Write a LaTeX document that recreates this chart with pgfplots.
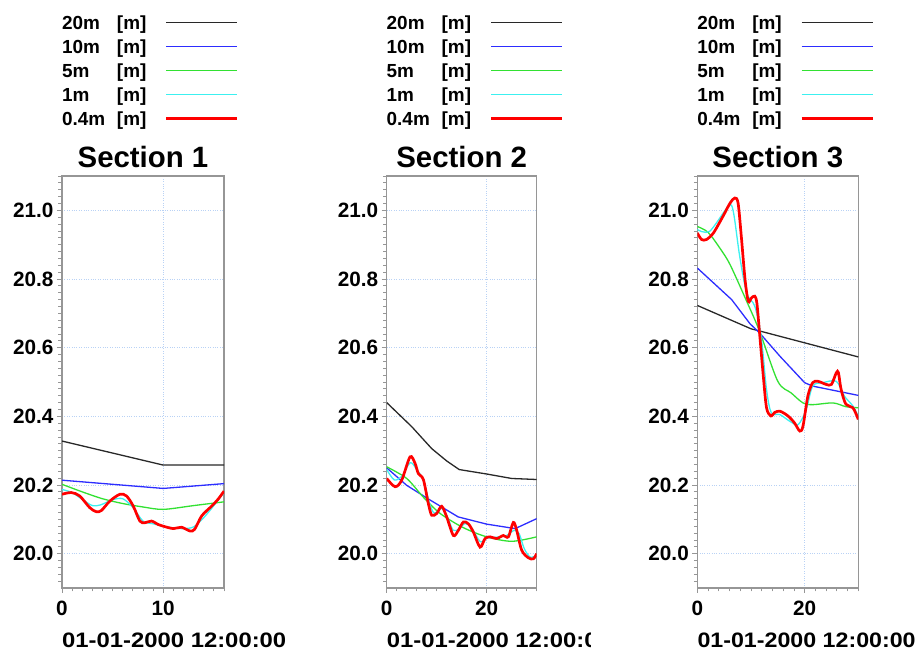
\documentclass[border=0pt]{standalone}
\usepackage{graphicx}
\usepackage{pgfplots}
\pgfplotsset{compat=1.18}
\usepackage{fontspec}
\setmainfont{Liberation Sans}

\definecolor{axgray}{RGB}{150,150,150}
\definecolor{gridblue}{RGB}{185,210,245}
\definecolor{c20}{RGB}{40,40,40}
\definecolor{c10}{RGB}{45,45,255}
\definecolor{c5}{RGB}{50,225,50}
\definecolor{c1}{RGB}{60,240,240}
\definecolor{c04}{RGB}{255,0,0}

\newcommand\tickfont{\fontsize{20.8}{24}\selectfont\bfseries}
\newcommand\titlefont{\fontsize{29.5}{34}\selectfont\bfseries}
\newcommand\legfont{\fontsize{19}{23}\selectfont\bfseries}
\newcommand\datefont{\fontsize{21}{24}\selectfont\bfseries}
\newcommand\legtxt[1]{\makebox[103bp][l]{\makebox[55bp][l]{#1}[m]}}

\pgfplotsset{
  sect/.style={
    scale only axis, height=412bp,
    ymin=19.9, ymax=21.1,
    ytick={20,20.2,20.4,20.6,20.8,21},
    minor ytick={19.92,19.94,...,21.09},
    tick align=outside, tick pos=left,
    major tick length=5bp, minor tick length=3.5bp,
    tick style={color=axgray, line width=0.8bp},
    axis line style={color=axgray, line width=1.1bp},
    grid=major, major grid style={gridblue, dotted, line width=0.6bp},
    ticklabel style={font=\tickfont},
    xticklabel style={yshift=-4.5bp},
    /pgf/number format/assume math mode=true,
    yticklabel style={/pgf/number format/fixed, /pgf/number format/precision=1,
      /pgf/number format/fixed zerofill},
    title style={font=\titlefont, at={(0.5,1)}, anchor=base, yshift=2.2bp},
    xlabel style={at={(axis description cs:0,0)}, anchor=base west,
      inner sep=0pt, yshift=-59bp, font=\datefont},
    xlabel={\scalebox{1.14}[1]{01-01-2000 12:00:00}},
    legend plot pos=right, legend cell align=left,
    legend style={draw=none, fill=none, inner sep=0pt, outer sep=0pt,
      at={(0,1)}, anchor=north west, yshift=163bp,
      row sep=0pt, column sep=0pt, font=\legfont,
      nodes={inner sep=0pt, text height=17bp, text depth=7bp, anchor=base west}},
    legend image code/.code={\draw[##1] (0bp,7.3bp) -- (71bp,7.3bp);},
    legend entries={\legtxt{20m},\legtxt{10m},\legtxt{5m},\legtxt{1m},\legtxt{0.4m}},
    every axis plot/.append style={line width=1.3bp},
  },
  l20/.style={c20, sharp plot},
  l10/.style={c10, sharp plot},
  l5/.style={c5, smooth},
  l1/.style={c1, smooth},
  l04/.style={c04, smooth, line width=2.7bp},
}

\begin{document}
\begin{tikzpicture}
\path[use as bounding box, clip] (0,0) rectangle (918bp,650bp);

% ---------------- Section 1 ----------------
\begin{axis}[sect, at={(62bp,62bp)}, anchor=south west, width=162bp,
  xmin=0, xmax=16, xtick={0,10}, minor xtick={0,1,...,16},
  title={Section 1}]
\addplot[l20] coordinates {(0,20.328) (10,20.258) (16,20.258)};
\addplot[l10] coordinates {(0,20.214) (10,20.190) (16,20.204)};
\addplot[l5] coordinates {(0,20.202) (2,20.180) (4,20.160) (6,20.146) (8,20.136)
  (10,20.129) (13,20.140) (16,20.151)};
\addplot[l1] coordinates {(0,20.187) (1,20.178) (2,20.158) (3,20.140) (3.8,20.142)
  (5,20.157) (6,20.160) (7,20.135) (8,20.095) (9,20.087) (10,20.080) (11,20.075)
  (12,20.073) (13,20.078) (14,20.105) (15,20.140) (16,20.178)};
\addplot[l04] coordinates {(0,20.173) (0.92,20.178) (1.75,20.168) (2.74,20.134)
  (3.4,20.122) (3.9,20.126) (4.72,20.153) (5.71,20.173) (6.37,20.168) (7.03,20.139)
  (7.69,20.095) (8.18,20.090) (8.84,20.095) (9.5,20.085) (10,20.080) (11,20.073)
  (11.8,20.077) (12.64,20.066) (13.1,20.071) (13.8,20.110) (14.8,20.139)
  (15.4,20.158) (16,20.182)};
\end{axis}

% ---------------- Section 2 ----------------
\begin{scope}
\clip (300bp,0bp) rectangle (590bp,650bp);
\begin{axis}[sect, at={(386.7bp,62bp)}, anchor=south west, width=150bp,
  xmin=0, xmax=30, xtick={0,20}, minor xtick={0,2,...,30},
  title={Section 2}]
\addplot[l20] coordinates {(0,20.440) (5,20.370) (9,20.306) (12,20.270) (14.5,20.245)
  (20,20.232) (25,20.219) (30,20.216)};
\addplot[l10] coordinates {(0,20.250) (4,20.199) (8.7,20.156) (14.3,20.107)
  (20,20.086) (25.7,20.073) (30,20.102)};
\addplot[l5] coordinates {(0,20.253) (4,20.219) (7.3,20.165) (10.7,20.117)
  (15.3,20.076) (20,20.049) (25,20.036) (30,20.049)};
\addplot[l1] coordinates {(0,20.245) (1.5,20.215) (3,20.225) (4.7,20.265) (6,20.245)
  (7.3,20.215) (8.5,20.150) (9.5,20.118) (11,20.132) (12.2,20.105) (13.3,20.068)
  (14.5,20.072) (15.7,20.088) (17,20.075) (18.7,20.035) (20,20.045) (22,20.048)
  (24,20.053) (25.5,20.068) (26.5,20.058) (27.5,20.015) (28.7,19.990) (30,19.995)};
\addplot[l04] coordinates {(0,20.219) (1.67,20.195) (3,20.214) (4.67,20.282)
  (5.67,20.263) (6.33,20.233) (7.33,20.216) (8.33,20.146) (9,20.112) (10,20.117)
  (11,20.138) (12,20.107) (13.33,20.053) (14.33,20.068) (15.33,20.092) (16.33,20.087)
  (17.33,20.063) (18.67,20.019) (19.67,20.044) (20.67,20.049) (22,20.044)
  (23.33,20.053) (24.33,20.049) (25.33,20.091) (26,20.068) (27,20.010)
  (28.33,19.988) (29.33,19.985) (30,20.000)};
\end{axis}
\end{scope}

% ---------------- Section 3 ----------------
\begin{axis}[sect, at={(697.3bp,62bp)}, anchor=south west, width=161bp,
  xmin=0, xmax=30, xtick={0,20}, minor xtick={0,2,...,30},
  title={Section 3}, xlabel={\scalebox{1.11}[1]{01-01-2000 12:00:00}}]
\addplot[l20] coordinates {(0,20.723) (10,20.655) (12,20.647) (30,20.573)};
\addplot[l10] coordinates {(0,20.832) (6.4,20.740) (9.8,20.670) (11.6,20.643)
  (15.4,20.575) (20,20.498) (21.5,20.488) (30,20.461)};
\addplot[l5] coordinates {(0,20.953) (2,20.936) (4.2,20.890) (6.1,20.842)
  (9.2,20.735) (11.6,20.648) (15,20.502) (17.5,20.468) (19.7,20.439) (21.5,20.434)
  (25.3,20.439) (27.7,20.428) (30,20.425)};
\addplot[l1] coordinates {(0,20.944) (2.3,20.939) (5.8,21.012) (6.7,20.997)
  (7.9,20.866) (9.2,20.759) (10.7,20.721) (11.9,20.633) (12.9,20.478) (13.8,20.410)
  (15.4,20.405) (17.2,20.386) (18.8,20.376) (20.3,20.420) (21.5,20.488)
  (23.4,20.498) (25.9,20.502) (27.4,20.459) (29,20.430) (30,20.400)};
\addplot[l04] coordinates {(0,20.934) (0.8,20.915) (1.7,20.915) (3,20.934)
  (4.8,20.983) (6.1,21.021) (7,21.036) (7.6,21.021) (8.2,20.924) (8.9,20.798)
  (9.5,20.735) (10.1,20.745) (10.7,20.750) (11.1,20.730) (11.6,20.643) (12.3,20.517)
  (12.9,20.425) (13.7,20.401) (14.4,20.411) (15.4,20.415) (16.9,20.401) (18.1,20.381)
  (19.1,20.357) (19.7,20.372) (20.6,20.459) (21.5,20.498) (22.5,20.502) (24,20.493)
  (25,20.493) (25.9,20.527) (26.3,20.527) (26.8,20.478) (27.7,20.435) (29,20.425)
  (30,20.391)};
\end{axis}
\end{tikzpicture}
\end{document}
